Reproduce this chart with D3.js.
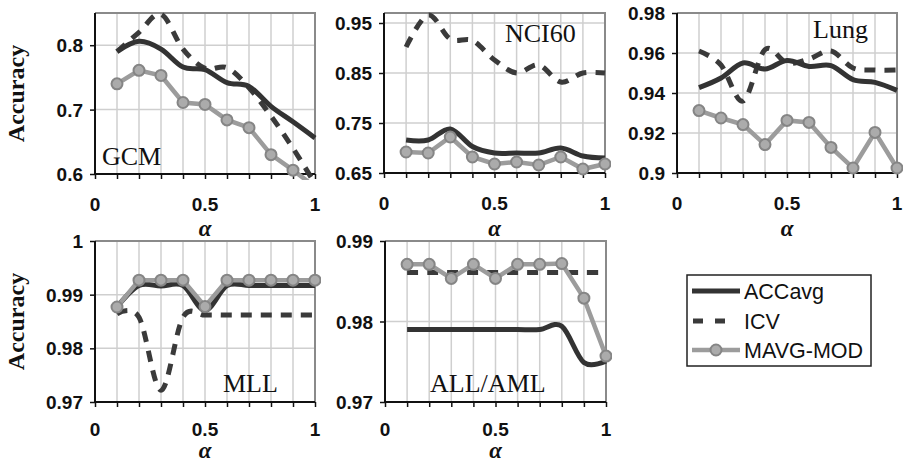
<!DOCTYPE html>
<html>
<head>
<meta charset="utf-8">
<script src="https://cdn.jsdelivr.net/npm/d3@7"></script>
<style>
  body { margin: 0; background: #fff; }
  text { font-family: "Liberation Sans", Arial, sans-serif; }
</style>
</head>
<body>
<script>
// alpha values on the x axis
const alpha = [0.1, 0.2, 0.3, 0.4, 0.5, 0.6, 0.7, 0.8, 0.9, 1.0];
const xTicks = [0, 0.5, 1];

// GCM
const gcmACC  = [0.790, 0.806, 0.794, 0.766, 0.762, 0.742, 0.736, 0.705, 0.681, 0.656];
const gcmICV  = [0.790, 0.820, 0.848, 0.794, 0.764, 0.765, 0.734, 0.690, 0.640, 0.585];
const gcmMAVG = [0.740, 0.761, 0.753, 0.711, 0.708, 0.684, 0.672, 0.630, 0.606, 0.580];
const gcmTicks = [0.6, 0.7, 0.8];

// NCI60
const nciACC  = [0.716, 0.716, 0.738, 0.703, 0.690, 0.690, 0.690, 0.700, 0.684, 0.680];
const nciICV  = [0.902, 0.966, 0.918, 0.915, 0.876, 0.850, 0.866, 0.832, 0.850, 0.850];
const nciMAVG = [0.692, 0.690, 0.722, 0.682, 0.668, 0.672, 0.666, 0.682, 0.658, 0.668];
const nciTicks = [0.65, 0.75, 0.85, 0.95];

// Lung
const lungACC  = [0.9427, 0.9475, 0.9550, 0.9520, 0.9563, 0.9533, 0.9537, 0.9467, 0.9453, 0.9413];
const lungICV  = [0.9610, 0.9540, 0.9360, 0.9617, 0.9550, 0.9570, 0.9610, 0.9525, 0.9515, 0.9515];
const lungMAVG = [0.9312, 0.9275, 0.9242, 0.9142, 0.9263, 0.9253, 0.9128, 0.9025, 0.9203, 0.9025];
const lungTicks = [0.9, 0.92, 0.94, 0.96, 0.98];

// MLL
const mllACC  = [0.9877, 0.9917, 0.9916, 0.9917, 0.9871, 0.9917, 0.9917, 0.9917, 0.9917, 0.9917];
const mllICV  = [0.9864, 0.9858, 0.9722, 0.9858, 0.9862, 0.9862, 0.9862, 0.9862, 0.9862, 0.9862];
const mllMAVG = [0.9877, 0.9927, 0.9927, 0.9927, 0.9878, 0.9927, 0.9927, 0.9927, 0.9927, 0.9927];
const mllTicks = [0.97, 0.98, 0.99, 1];

// ALL/AML
const amlACC  = [0.9790, 0.9790, 0.9790, 0.9790, 0.9790, 0.9790, 0.9790, 0.9794, 0.9749, 0.9751];
const amlICV  = [0.9861, 0.9861, 0.9861, 0.9861, 0.9861, 0.9861, 0.9861, 0.9861, 0.9861, 0.9861];
const amlMAVG = [0.9871, 0.9871, 0.98535, 0.9871, 0.98535, 0.9871, 0.9871, 0.9872, 0.9829, 0.9757];
const amlTicks = [0.97, 0.98, 0.99];

const seriesNames = ["ACCavg", "ICV", "MAVG-MOD"];

const panels = [
  {name: "GCM",     acc: gcmACC,  icv: gcmICV,  mavg: gcmMAVG,  ticks: gcmTicks,  top: 0.85,
   box: [95, 315, 13, 174],  lab: [102, 165], yLabel: true,  xOff: 37, aY: 236},
  {name: "NCI60",   acc: nciACC,  icv: nciICV,  mavg: nciMAVG,  ticks: nciTicks,  top: 0.97,
   box: [384, 605, 13, 173], lab: [505, 42],  yLabel: false, xOff: 37, aY: 236},
  {name: "Lung",    acc: lungACC, icv: lungICV, mavg: lungMAVG, ticks: lungTicks, top: 0.98,
   box: [677, 897, 13, 173], lab: [813, 38],  yLabel: false, xOff: 37, aY: 236},
  {name: "MLL",     acc: mllACC,  icv: mllICV,  mavg: mllMAVG,  ticks: mllTicks,  top: 1,
   box: [95, 315, 241, 402], lab: [223, 392], yLabel: true,  xOff: 34, aY: 458},
  {name: "ALL/AML", acc: amlACC,  icv: amlICV,  mavg: amlMAVG,  ticks: amlTicks,  top: 0.99,
   box: [385, 606, 241, 402], lab: [430, 392], yLabel: false, xOff: 34, aY: 458}
];

const width = 907, height = 462;
const dark = "#333", icvCol = "#3a3a3a", grayLine = "#9c9c9c", grid = "#cfcfcf", frame = "#8a8a8a";

const svg = d3.select("body").append("svg")
  .attr("width", width)
  .attr("height", height);

const smooth = d3.curveCatmullRom.alpha(0);

panels.forEach((p, pi) => {
  const [x0, x1, y0, y1] = p.box;
  const x = d3.scaleLinear().domain([0, 1]).range([x0, x1]);
  const y = d3.scaleLinear().domain([p.ticks[0], p.top]).range([y1, y0]);
  const g = svg.append("g");

  svg.append("clipPath").attr("id", "clip" + pi)
    .append("rect")
    .attr("x", x0 - 6).attr("y", y0 - 4)
    .attr("width", x1 - x0 + 12).attr("height", y1 - y0 + 10);

  // grid
  g.selectAll(".vg").data(d3.range(1, 10).map(i => i / 10)).join("line")
    .attr("x1", d => x(d)).attr("x2", d => x(d))
    .attr("y1", y0).attr("y2", y1)
    .attr("stroke", grid).attr("stroke-width", 1.5);
  g.selectAll(".hg").data(p.ticks.slice(1).filter(t => t < p.top)).join("line")
    .attr("x1", x0).attr("x2", x1)
    .attr("y1", d => y(d)).attr("y2", d => y(d))
    .attr("stroke", grid).attr("stroke-width", 1.5);

  // frame top/right
  g.append("path")
    .attr("d", `M${x0},${y0}H${x1}V${y1}`)
    .attr("fill", "none").attr("stroke", frame).attr("stroke-width", 2);

  // axes
  const xAxis = d3.axisBottom(x).tickValues(d3.range(0, 11).map(i => i / 10))
    .tickSize(5).tickFormat("");
  g.append("g").attr("transform", `translate(0,${y1})`).call(xAxis)
    .call(a => a.select(".domain").attr("stroke", "#111").attr("stroke-width", 2).attr("d", `M${x0},0H${x1}`))
    .call(a => a.selectAll(".tick line").attr("stroke", "#111").attr("stroke-width", 1.5));
  const yAxis = d3.axisLeft(y).tickValues(p.ticks).tickSize(5).tickFormat("");
  g.append("g").attr("transform", `translate(${x0},0)`).call(yAxis)
    .call(a => a.select(".domain").attr("stroke", "#111").attr("stroke-width", 2).attr("d", `M0,${y0}V${y1}`))
    .call(a => a.selectAll(".tick line").attr("stroke", "#111").attr("stroke-width", 1.5));

  // tick labels
  g.selectAll(".xt").data(xTicks).join("text")
    .attr("x", d => x(d)).attr("y", y1 + p.xOff)
    .attr("text-anchor", "middle")
    .attr("font-size", 19).attr("font-weight", "bold").attr("fill", "#111")
    .text(d => String(d));
  g.selectAll(".yt").data(p.ticks).join("text")
    .attr("x", x0 - 12).attr("y", d => y(d) + 7)
    .attr("text-anchor", "end")
    .attr("font-size", 19).attr("font-weight", "bold").attr("fill", "#111")
    .text(d => String(d));

  // alpha label
  g.append("text")
    .attr("x", x(0.5)).attr("y", p.aY)
    .attr("text-anchor", "middle")
    .style("font-family", "'Liberation Serif', 'Times New Roman', serif")
    .attr("font-size", 23).attr("font-weight", "bold").attr("font-style", "italic")
    .attr("fill", "#111")
    .text("α");

  if (p.yLabel) {
    g.append("text")
      .attr("transform", `translate(24,${(y0 + y1) / 2}) rotate(-90)`)
      .attr("text-anchor", "middle")
      .style("font-family", "'Liberation Serif', 'Times New Roman', serif")
      .attr("font-size", 24).attr("font-weight", "bold").attr("fill", "#111")
      .text("Accuracy");
  }

  // series
  const plot = g.append("g").attr("clip-path", `url(#clip${pi})`);
  const pts = arr => arr.map((v, i) => [x(alpha[i]), y(v)]);
  plot.append("path").datum(pts(p.icv))
    .attr("d", d3.line().curve(smooth))
    .attr("fill", "none").attr("stroke", icvCol).attr("stroke-width", 5)
    .attr("stroke-dasharray", "11,9");
  plot.append("path").datum(pts(p.acc))
    .attr("d", d3.line().curve(smooth))
    .attr("fill", "none").attr("stroke", dark).attr("stroke-width", 5);
  plot.append("path").datum(pts(p.mavg))
    .attr("d", d3.line())
    .attr("fill", "none").attr("stroke", grayLine).attr("stroke-width", 4.5);
  plot.selectAll("circle").data(pts(p.mavg)).join("circle")
    .attr("cx", d => d[0]).attr("cy", d => d[1]).attr("r", 5.5)
    .attr("fill", "#ababab").attr("stroke", "#858585").attr("stroke-width", 2);

  // panel name
  g.append("text")
    .attr("x", p.lab[0]).attr("y", p.lab[1])
    .style("font-family", "'Liberation Serif', 'Times New Roman', serif")
    .attr("font-size", 26).attr("fill", "#111")
    .text(p.name);
});

// legend
const leg = svg.append("g");
leg.append("rect")
  .attr("x", 687).attr("y", 275).attr("width", 184).attr("height", 91)
  .attr("fill", "#fff").attr("stroke", "#222").attr("stroke-width", 1.5);
const legY = [291, 321, 350];
seriesNames.forEach((s, i) => {
  const ly = legY[i];
  const l = leg.append("line")
    .attr("x1", 692).attr("x2", 740).attr("y1", ly).attr("y2", ly)
    .attr("stroke-width", i === 2 ? 4.5 : 5)
    .attr("stroke", i === 0 ? dark : i === 1 ? icvCol : grayLine);
  if (i === 1) l.attr("stroke-dasharray", "10,12").attr("x1", 693).attr("x2", 726);
  if (i === 2) {
    leg.append("circle").attr("cx", 716).attr("cy", ly).attr("r", 5.5)
      .attr("fill", "#ababab").attr("stroke", "#858585").attr("stroke-width", 2);
  }
  leg.append("text")
    .attr("x", 744).attr("y", ly + 8)
    .attr("font-size", 21.5).attr("fill", "#111")
    .text(s);
});
</script>
</body>
</html>
